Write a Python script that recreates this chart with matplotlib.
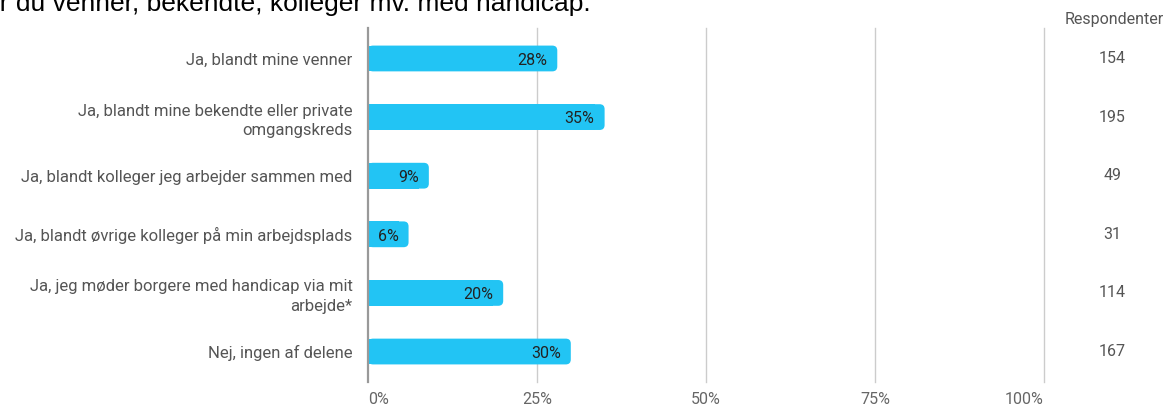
import matplotlib.pyplot as plt
from matplotlib.patches import FancyBboxPatch, Rectangle

categories = ['Ja, blandt mine venner',
              'Ja, blandt mine bekendte eller private\nomgangskreds',
              'Ja, blandt kolleger jeg arbejder sammen med',
              'Ja, blandt øvrige kolleger på min arbejdsplads',
              'Ja, jeg møder borgere med handicap via mit\narbejde*',
              'Nej, ingen af delene']
values = [28, 35, 9, 6, 20, 30]
respondents = [154, 195, 49, 31, 114, 167]
ticks = [0, 25, 50, 75, 100]
tick_labels = ['0%', '25%', '50%', '75%', '100%']

W, H = 1168, 408
fig = plt.figure(figsize=(W / 100, H / 100), dpi=100)
ax = fig.add_axes([368 / W, 26 / H, 676 / W, 354 / H])

blue = '#22c4f4'
ypos = list(range(len(categories)))
bars = ax.barh(ypos, values, height=0.44, color=blue, zorder=3)

# rounded right corners (radius ~5px)
px_x = 100 / 676
px_y = 6 / 354
r = 5 * px_x
for b in bars:
    x0, y0 = b.get_x(), b.get_y()
    w, h = b.get_width(), b.get_height()
    b.set_visible(False)
    ax.add_patch(FancyBboxPatch((x0, y0), w, h,
                                boxstyle='round,pad=0,rounding_size=%f' % r,
                                mutation_aspect=px_y / px_x,
                                fc=blue, ec='none', zorder=3))
    ax.add_patch(Rectangle((x0, y0), w - 2 * r, h, fc=blue, ec='none',
                           lw=0, zorder=3))

for i, v in enumerate(values):
    ax.text(v - 10 * px_x, i + 0.03, '%d%%' % v, ha='right', va='center',
            fontsize=11.5, family='Roboto', color='#222222', zorder=4)
    ax.text((1112 - 368) / 676 * 100, i, str(respondents[i]),
            ha='center', va='center', fontsize=11.5, family='Roboto',
            color='#555555', clip_on=False)

ax.text((1114 - 368) / 676 * 100, -0.66, 'Respondenter', ha='center',
        va='center', fontsize=11.5, family='Roboto', color='#555555',
        clip_on=False)

ax.set_xlim(0, 100)
ax.set_ylim(5.52, -0.52)
ax.set_yticks(ypos)
ax.set_yticklabels(categories, family='Roboto', fontsize=12,
                   color='#555555', linespacing=1.35)
ax.set_xticks(ticks)
ax.set_xticklabels(tick_labels, family='Roboto', fontsize=11.5, color='#666666')
labs = ax.get_xticklabels()
labs[0].set_ha('left')
labs[-1].set_ha('right')
ax.tick_params(axis='both', length=0)
ax.tick_params(axis='x', pad=7)
ax.tick_params(axis='y', pad=11)

for t in ticks[1:]:
    ax.axvline(t, color='#cccccc', lw=1, zorder=1, clip_on=False)
ax.axvline(0, color='#999999', lw=1.6, zorder=5, clip_on=False)
for s in ax.spines.values():
    s.set_visible(False)

fig.text(-34 / W, (H - 11) / H, 'Har du venner, bekendte, kolleger mv. med handicap.',
         ha='left', va='baseline', fontsize=19, family='Liberation Sans',
         color='#000000')

fig.savefig('out.png', dpi=100)
